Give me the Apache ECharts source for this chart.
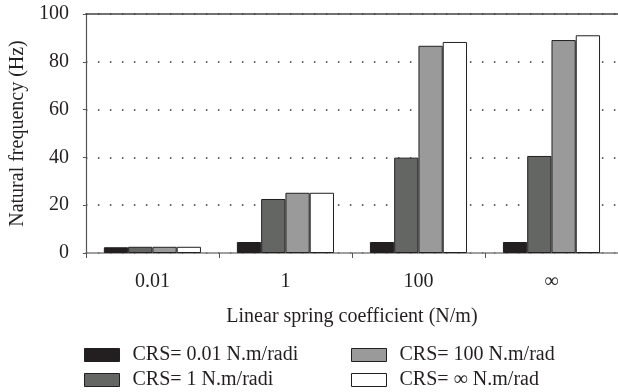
<!DOCTYPE html>
<html>
<head>
<meta charset="utf-8">
<script src="https://cdn.jsdelivr.net/npm/echarts@6/dist/echarts.min.js"></script>
<style>
  html, body { margin: 0; padding: 0; background: #fff; }
  #chart { width: 618px; height: 392px; }
</style>
</head>
<body>
<div id="chart"></div>
<script>
// linear spring coefficient groups
const categories = ["0.01", "1", "100", "\u221e"];
const seriesNames = [
  "CRS= 0.01 N.m/radi",
  "CRS= 1 N.m/radi",
  "CRS= 100 N.m/rad",
  "CRS= \u221e N.m/rad"
];
const crs001 = [2.4, 4.6, 4.6, 4.6];
const crs1 = [2.6, 22.6, 39.9, 40.6];
const crs100 = [2.6, 25.2, 86.7, 89.1];
const crsInf = [2.6, 25.2, 88.3, 91.1];
const yTicks = [0, 20, 40, 60, 80, 100];

const colors = ["#231f20", "#646664", "#9a9a9a", "#ffffff"];
const values = [crs001, crs1, crs100, crsInf];
const font = "Liberation Serif";
const fs = 20;

const chart = echarts.init(document.getElementById("chart"));

const series = values.map((v, i) => ({
  name: seriesNames[i],
  type: "bar",
  data: v,
  barGap: "0%",
  barCategoryGap: "27%",
  itemStyle: { color: colors[i], borderColor: "#231f20", borderWidth: 1 }
}));

// two stacked legends side by side, like the two columns of the original
const legendBase = {
  orient: "vertical",
  padding: 0,
  icon: "rect",
  itemWidth: 35,
  itemHeight: 13,
  itemGap: 5,
  textStyle: { fontFamily: font, fontSize: fs, lineHeight: 19, color: "#231f20", padding: [0, 0, 0, 8] },
  itemStyle: { borderColor: "#231f20", borderWidth: 1 }
};

chart.setOption({
  animation: false,
  color: colors,
  grid: { left: 85, right: -2, top: 14, bottom: 139 },
  legend: [
    Object.assign({}, legendBase, { left: 84, top: 345, data: [seriesNames[0], seriesNames[1]] }),
    Object.assign({}, legendBase, { left: 351, top: 345, data: [seriesNames[2], seriesNames[3]] })
  ],
  xAxis: [
    {
      type: "category",
      data: categories,
      axisLine: { lineStyle: { color: "#808080", width: 1.5 } },
      axisTick: { show: true, length: 5, lineStyle: { color: "#555" } },
      axisLabel: { fontFamily: font, fontSize: fs, color: "#231f20", margin: 19 },
      name: "Linear spring coefficient (N/m)",
      nameLocation: "middle",
      nameGap: 54,
      nameTextStyle: { fontFamily: font, fontSize: fs, color: "#231f20" }
    },
    {
      type: "category",
      data: categories,
      position: "top",
      axisLine: { show: true, lineStyle: { color: "#444", width: 1.5 } },
      axisTick: { show: false },
      axisLabel: { show: false }
    }
  ],
  yAxis: {
    type: "value",
    min: yTicks[0],
    max: yTicks[yTicks.length - 1],
    interval: 20,
    axisLine: { show: true, lineStyle: { color: "#555", width: 1.2 } },
    axisTick: { show: true, length: 3, lineStyle: { color: "#555" } },
    axisLabel: { fontFamily: font, fontSize: fs, color: "#231f20", margin: 17 },
    splitLine: { lineStyle: { color: "#333", width: 1.5, type: [1.5, 10.5] } },
    name: "Natural frequency (Hz)",
    nameLocation: "middle",
    nameGap: 56,
    nameTextStyle: { fontFamily: font, fontSize: fs, color: "#231f20" }
  },
  series: series
});
</script>
</body>
</html>
